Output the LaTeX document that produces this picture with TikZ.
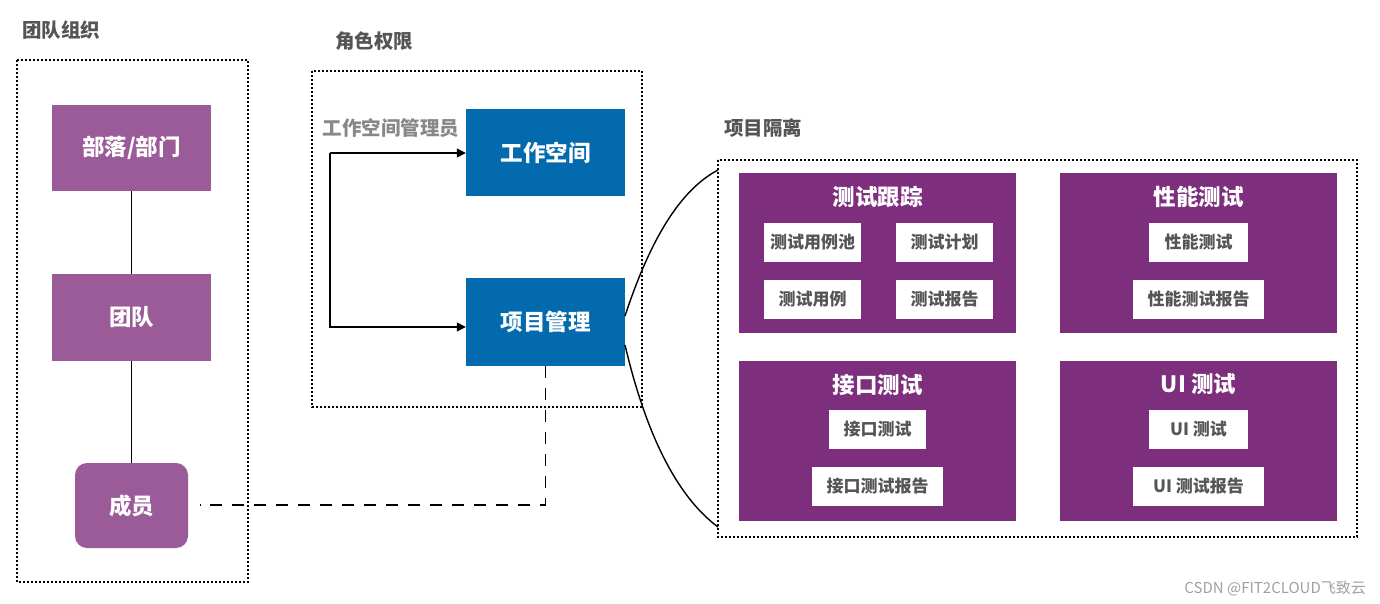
\documentclass[tikz,border=0pt]{standalone}
\usepackage{fontspec}
\setmainfont{Noto Sans CJK SC}
\newfontfamily\cjk{Noto Sans CJK SC}
\usetikzlibrary{arrows.meta}
\definecolor{lpurple}{HTML}{9A5B98}
\definecolor{dpurple}{HTML}{7D2E7D}
\definecolor{mblue}{HTML}{036AAE}
\definecolor{tgray}{HTML}{555555}
\definecolor{lgray}{HTML}{888888}
\tikzset{
  groupbox/.style={draw=black, line width=1.3pt, dash pattern=on 2pt off 2pt},
  title/.style={text=tgray, font=\cjk\bfseries\fontsize{19.5}{22}\selectfont, inner sep=0pt},
  orgbox/.style={fill=lpurple, text=white, font=\cjk\bfseries\fontsize{22.5}{25}\selectfont, inner sep=0pt},
  rolebox/.style={fill=mblue, text=white, font=\cjk\bfseries\fontsize{22.5}{25}\selectfont, inner sep=0pt},
  modbox/.style={fill=dpurple, inner sep=0pt},
  modtitle/.style={text=white, font=\cjk\bfseries\fontsize{22.5}{25}\selectfont, inner sep=0pt},
  itembox/.style={fill=white, text=tgray, font=\cjk\bfseries\fontsize{17}{19}\selectfont, inner sep=0pt},
  conn/.style={draw=black, line width=1.6pt},
  dconn/.style={draw=black, line width=1.8pt, dash pattern=on 12pt off 10pt},
  curve/.style={draw=black, line width=1.4pt},
}
\begin{document}
\begin{tikzpicture}[x=1pt, y=-1pt]
\useasboundingbox (0,0) rectangle (1380,604);
% titles
\node[title] (t1) at (61,30) {团队组织};
\node[title] (t2) at (374,41) {角色权限};
\node[title] (t3) at (763,128) {项目隔离};
% group boxes
\draw[groupbox] (17,60) rectangle (248,582);
\draw[groupbox] (312,71) rectangle (642,407);
\draw[groupbox] (718,160) rectangle (1357,537);
% org
\node[orgbox, minimum width=159pt, minimum height=86pt] (dept) at (131.5,148) {部落/部门};
\node[orgbox, minimum width=159pt, minimum height=87pt] (team) at (131.5,317.5) {团队};
\node[orgbox, minimum width=113pt, minimum height=85pt, rounded corners=12pt] (member) at (131.5,505.5) {成员};
\draw[conn] (dept.south) -- (team.north);
\draw[conn] (team.south) -- (member.north);
% roles
\node[rolebox, minimum width=159pt, minimum height=87pt] (ws) at (545.5,152.5) {工作空间};
\node[rolebox, minimum width=159pt, minimum height=88pt] (pm) at (545.5,322) {项目管理};
\node[text=lgray, font=\cjk\bfseries\fontsize{19.5}{22}\selectfont, inner sep=0pt] (admin) at (391,128) {工作空间管理员};
\coordinate (a1) at (330,153);
\coordinate (a2) at (330,327);
\draw[conn, -{Triangle[length=9pt,width=9pt]}] (a1) -- (ws.west |- a1);
\draw[conn, -{Triangle[length=9pt,width=9pt]}] (a1) -- (a2) -- (pm.west |- a2);
% dashed member link
\coordinate (d1) at (545.5,505);
\draw[dconn] (pm.south) -- (d1) -- (200,505);
% curves
\coordinate (c1) at (718,170);
\coordinate (c2) at (718,527);
\draw[curve] (625,316) .. controls (650,240) and (680,190) .. (c1);
\draw[curve] (625,345) .. controls (645,430) and (675,495) .. (c2);
% modules
\node[modbox, minimum width=277pt, minimum height=160pt] (m1) at (877.5,253) {};
\node[modbox, minimum width=277pt, minimum height=160pt] (m2) at (1198.5,253) {};
\node[modbox, minimum width=277pt, minimum height=160pt] (m3) at (877.5,441) {};
\node[modbox, minimum width=277pt, minimum height=160pt] (m4) at (1198.5,441) {};
\node[modtitle] (m1t) at (877.5,197) {测试跟踪};
\node[modtitle] (m2t) at (1198.5,197) {性能测试};
\node[modtitle] (m3t) at (877.5,385) {接口测试};
\node[modtitle] (m4t) at (1198.5,384) {UI 测试};
% items
\node[itembox, minimum width=97pt, minimum height=39pt] (i1) at (812.5,242.5) {测试用例池};
\node[itembox, minimum width=97pt, minimum height=39pt] (i2) at (944.5,242.5) {测试计划};
\node[itembox, minimum width=97pt, minimum height=39pt] (i3) at (812.5,299.5) {测试用例};
\node[itembox, minimum width=97pt, minimum height=39pt] (i4) at (944.5,299.5) {测试报告};
\node[itembox, minimum width=99pt, minimum height=39pt] (i5) at (1198.5,242.5) {性能测试};
\node[itembox, minimum width=131pt, minimum height=39pt] (i6) at (1198.5,299.5) {性能测试报告};
\node[itembox, minimum width=97pt, minimum height=39pt] (i7) at (877.5,429.5) {接口测试};
\node[itembox, minimum width=131pt, minimum height=39pt] (i8) at (877.5,486.5) {接口测试报告};
\node[itembox, minimum width=99pt, minimum height=39pt] (i9) at (1198.5,429.5) {UI 测试};
\node[itembox, minimum width=131pt, minimum height=39pt] (i10) at (1198.5,486.5) {UI 测试报告};
% watermark
\node[text=lgray!80, font=\cjk\fontsize{15}{17}\selectfont, inner sep=0pt, anchor=east] (wm) at (1366,588) {CSDN @FIT2CLOUD飞致云};
\end{tikzpicture}
\end{document}
